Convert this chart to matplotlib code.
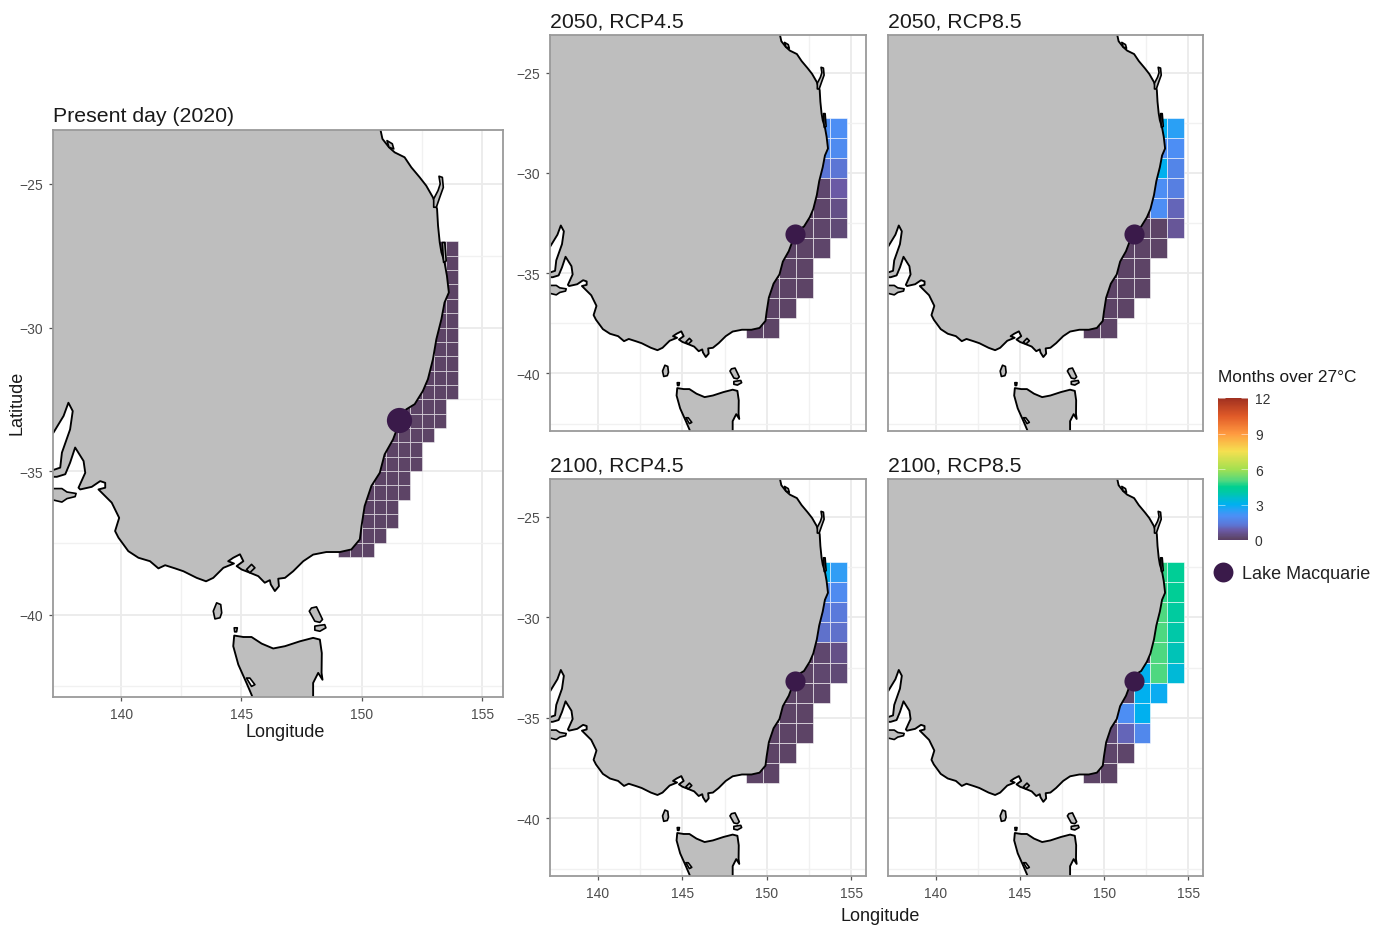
import numpy as np
import matplotlib
matplotlib.use("Agg")
import matplotlib.pyplot as plt
from matplotlib.colors import LinearSegmentedColormap, Normalize
from matplotlib.cm import ScalarMappable
from matplotlib.patches import Polygon

plt.rcParams['font.family'] = ['Liberation Sans', 'DejaVu Sans']

# --- coastline data (lon, lat) ---
MAINLAND_LON = [150.7,150.77,150.86,151.13,151.37,151.78,152.06,152.41,152.68,152.96,153.13,153.17,153.24,153.31,153.44,153.54,153.62,153.44,153.31,153.10,152.96,152.75,152.54,152.20,151.85,151.51,151.30,150.95,150.75,150.40,150.12,149.99,149.92,149.57,149.09,148.53,147.98,147.57,147.15,146.81,146.53,146.56,146.39,146.22,146.18,145.97,145.70,145.35,145.01,144.80,145.08,144.94,144.66,144.45,144.69,144.25,143.83,143.53,143.14,142.59,142.24,141.83,141.55,141.20,140.72,140.30,139.89,139.75,139.92,139.61,139.06,139.34,139.34,139.13,138.78,138.30,138.23,138.51,138.44,138.09,137.88,137.68,137.33,136.92,136.92,137.05,137.47,137.54,137.88,137.99,137.81,137.61,137.19,136.92,136.5,136.5,150.7]
MAINLAND_LAT = [-22.5,-23.08,-23.43,-23.72,-23.90,-24.07,-24.42,-24.77,-25.06,-25.47,-25.87,-26.45,-27.03,-27.38,-27.73,-28.20,-28.78,-29.13,-29.71,-30.41,-31.10,-31.80,-32.21,-32.67,-32.85,-33.43,-33.90,-34.42,-35.06,-35.52,-36.22,-36.92,-37.38,-37.73,-37.82,-37.82,-37.91,-38.14,-38.49,-38.72,-38.75,-39.01,-39.18,-38.95,-38.80,-38.89,-38.66,-38.54,-38.43,-38.31,-38.14,-37.90,-38.02,-38.14,-38.22,-38.37,-38.72,-38.84,-38.72,-38.49,-38.39,-38.28,-38.39,-38.14,-38.02,-37.79,-37.32,-37.09,-36.63,-36.10,-35.64,-35.58,-35.41,-35.35,-35.55,-35.64,-35.58,-35.06,-34.65,-34.18,-34.71,-35.11,-35.20,-35.20,-35.00,-35.00,-34.88,-34.36,-33.55,-32.91,-32.62,-33.08,-33.66,-33.78,-33.78,-22.5,-22.5]
TASMANIA_LON = [144.70,145.08,145.42,145.84,146.32,146.81,147.43,147.98,148.26,148.34,148.33,148.37,148.19,147.98,147.98,147.90,145.63,145.42,145.21,144.87,144.66]
TASMANIA_LAT = [-40.73,-40.78,-40.78,-41.01,-41.18,-41.10,-40.93,-40.81,-40.87,-41.34,-42.03,-42.27,-42.03,-42.38,-42.96,-43.31,-43.31,-42.79,-42.38,-41.74,-41.10]
ISLANDS = {
    "fraser": ([153.21,153.35,153.39,153.24,153.10,152.99,152.99,153.17,153.26],[-24.73,-24.77,-25.12,-25.47,-25.81,-25.81,-25.52,-25.23,-25.00]),
    "curtis": ([151.05,151.27,151.33,151.13],[-23.49,-23.60,-23.78,-23.72]),
    "moreton": ([153.35,153.45,153.51,153.40],[-27.04,-27.04,-27.68,-27.73]),
    "kangaroo": ([137.19,137.54,137.75,138.13,138.09,137.75,137.54,137.19,136.92,136.92],[-35.61,-35.61,-35.73,-35.78,-35.89,-35.96,-36.08,-36.01,-35.99,-35.61]),
    "king": ([143.97,144.14,144.18,144.11,143.90,143.83],[-39.59,-39.65,-39.94,-40.11,-40.15,-39.88]),
    "flinders": ([147.91,148.12,148.37,148.26,148.05,147.82],[-39.77,-39.73,-40.17,-40.27,-40.23,-39.88]),
    "barren": ([148.05,148.46,148.51,148.26,148.05],[-40.40,-40.35,-40.46,-40.58,-40.54]),
    "hunter": ([144.70,144.83,144.80,144.72],[-40.46,-40.46,-40.60,-40.60]),
    "phillip": ([145.21,145.42,145.56,145.35],[-38.43,-38.25,-38.37,-38.54]),
    "harbour": ([145.21,145.35,145.56,145.42],[-42.21,-42.21,-42.44,-42.50]),
}

# --- Present day grid: 0.5 degree cells, north to south ---
PRESENT_LAT_TOPS = np.arange(-27.0, -37.51, -0.5)
PRESENT_LON_WEST = np.arange(149.0, 153.51, 0.5)
PRESENT_EAST_EDGE = [154,154,154,154,154,154,154,154,154,154,154,
                     153.5,153.5,153,152.5,152.5,152,152,151.5,151.5,151,150.5]
PRESENT_VALUE = 0.1

# --- Future grids: 1 degree cells, north to south, lon 149.25..154.25 ---
FUTURE_LON_WEST = np.arange(148.75, 153.76, 1.0)
FUTURE_LAT_TOPS = np.arange(-27.25, -37.26, -1.0)
n = np.nan
V_2050_45 = [[.1,.1,.1,.1,2.0,2.0],[.1,.1,.1,.1,1.9,1.9],[.1,.1,.1,.1,1.3,1.3],
             [.1,.1,.1,.1,.2,.8],[.1,.1,.1,.1,.15,.5],[.1,.1,.1,.1,.15,.3],
             [.1,.1,.1,.1,.15,n],[.1,.1,.1,.1,n,n],[.1,.1,.1,.1,n,n],
             [.1,.1,.1,n,n,n],[.1,.1,n,n,n,n]]
V_2050_85 = [[.1,.1,.1,.1,3.0,2.5],[.1,.1,.1,.1,2.0,2.0],[.1,.1,.1,.1,3.0,1.7],
             [.1,.1,.1,.1,2.0,1.5],[.1,.1,.1,.1,2.0,1.0],[.1,.1,.1,.1,.1,.7],
             [.1,.1,.1,.1,.1,n],[.1,.1,.1,.1,n,n],[.1,.1,.1,.1,n,n],
             [.1,.1,.1,n,n,n],[.1,.1,n,n,n,n]]
V_2100_45 = [[.1,.1,.1,.1,3.0,2.4],[.1,.1,.1,.1,1.9,1.9],[.1,.1,.1,.1,1.4,1.4],
             [.1,.1,.1,.1,1.2,1.2],[.1,.1,.1,.1,.2,.5],[.1,.1,.1,.1,.2,.3],
             [.1,.1,.1,.1,.15,n],[.1,.1,.1,.1,n,n],[.1,.1,.1,.1,n,n],
             [.1,.1,.1,n,n,n],[.1,.1,n,n,n,n]]
V_2100_85 = [[.1,.1,.1,.1,4.8,4.4],[.1,.1,.1,.1,4.8,4.4],[.1,.1,.1,.1,5.0,4.2],
             [.1,.1,.1,.1,5.0,4.0],[.1,.1,.1,.1,5.0,3.8],[.1,.1,.1,3.0,5.0,3.4],
             [.1,.1,.15,3.0,2.9,n],[.1,.1,2.0,3.0,n,n],[.1,.3,1.0,1.8,n,n],
             [.1,.15,.15,n,n,n],[.1,.1,n,n,n,n]]

# Panels: values, title, lake position
PANEL_TITLES = ["2050, RCP4.5", "2050, RCP8.5", "2100, RCP4.5", "2100, RCP8.5"]
PANEL_VALUES = [V_2050_45, V_2050_85, V_2100_45, V_2100_85]
LAKE_LON = [151.68, 151.78, 151.68, 151.76]
LAKE_LAT = [-33.05, -33.05, -33.15, -33.15]
PRESENT_LAKE = (151.53, -33.22)

CMAP_VALUES = [0, 0.1, 0.8, 1.3, 2.0, 2.5, 3.0, 3.5, 4.0, 4.5, 5.0, 6.0, 7.5, 9.0, 10.5, 12.0]
CMAP_COLORS = ["#5a4068", "#5d4466", "#6a5aa5", "#5b78d8", "#4d8ff5", "#2aa0f5", "#00b0f0",
               "#00bcd0", "#00c8a8", "#00d090", "#50d880", "#a5e050", "#f5e050",
               "#ff9a40", "#e05a28", "#a03020"]
cmap = LinearSegmentedColormap.from_list("months", [(v / 12, c) for v, c in zip(CMAP_VALUES, CMAP_COLORS)])
norm = Normalize(0, 12)

W, H = 1389, 928
fig = plt.figure(figsize=(W / 100, H / 100), dpi=100)
fig.patch.set_facecolor("white")

XLIM = (137.17, 155.87)
YLIM = (-42.87, -23.12)


def px_axes(x0, y0, x1, y1):
    return fig.add_axes([x0 / W, 1 - y1 / H, (x1 - x0) / W, (y1 - y0) / H])


def base(ax, title, show_x, show_y):
    ax.set_axisbelow(True)
    for v in [140, 145, 150, 155]:
        ax.axvline(v, color="#ebebeb", lw=1.3, zorder=0.5)
    for v in [142.5, 147.5, 152.5]:
        ax.axvline(v, color="#f1f1f1", lw=1.0, zorder=0.5)
    for v in [-25, -30, -35, -40]:
        ax.axhline(v, color="#ebebeb", lw=1.3, zorder=0.5)
    for v in [-27.5, -32.5, -37.5, -42.5]:
        ax.axhline(v, color="#f1f1f1", lw=1.0, zorder=0.5)
    ax.set_xticks([140, 145, 150, 155] if show_x else [])
    ax.set_yticks([-25, -30, -35, -40] if show_y else [])
    ax.tick_params(length=3, width=0.9, color="#555555", labelcolor="#4d4d4d", labelsize=10, pad=4)
    for s in ax.spines.values():
        s.set_color("#9a9a9a")
        s.set_linewidth(1.3)
        s.set_zorder(6)
    ax.annotate(title, xy=(0, 1), xycoords="axes fraction", xytext=(0, 3.5), textcoords="offset points",
                ha="left", va="bottom", fontsize=15.3, color="#1a1a1a")


def cells(ax, west, top, size, values, edge, lw):
    values = np.asarray(values, dtype=float)
    lo, la = np.meshgrid(west, top)
    ok = np.isfinite(values)
    ax.bar(lo[ok], size, width=size, bottom=la[ok] - size, align="edge",
           color=cmap(norm(values[ok])), edgecolor=edge, linewidth=lw, zorder=2)


def land(ax):
    ax.add_patch(Polygon(np.column_stack([MAINLAND_LON, MAINLAND_LAT]), closed=True, fc="#bebebe", ec="black", lw=1.35, zorder=3, joinstyle="round"))
    ax.add_patch(Polygon(np.column_stack([TASMANIA_LON, TASMANIA_LAT]), closed=True, fc="#bebebe", ec="black", lw=1.35, zorder=3, joinstyle="round"))
    for name, (lo, la) in ISLANDS.items():
        ax.add_patch(Polygon(np.column_stack([lo, la]), closed=True, fc="white" if name == "harbour" else "#bebebe", ec="black", lw=1.2, zorder=3.2, joinstyle="round"))
    ax.set_xlim(*XLIM)
    ax.set_ylim(*YLIM)


# Present-day panel
ax0 = px_axes(53, 131, 503, 698)
base(ax0, "Present day (2020)", True, True)
present = [[PRESENT_VALUE if w + 0.25 < e else np.nan for w in PRESENT_LON_WEST] for e in PRESENT_EAST_EDGE]
cells(ax0, PRESENT_LON_WEST, PRESENT_LAT_TOPS, 0.5, present, (1, 1, 1, 0.55), 0.6)
land(ax0)
ax0.scatter(*PRESENT_LAKE, s=330, color="#3a1a4a", zorder=5, linewidths=0)
fig.text(285 / W, 1 - 733 / H, "Longitude", ha="center", va="center", fontsize=13, color="#1a1a1a")
fig.text(17 / W, 1 - 403 / H, "Latitude", ha="center", va="center", rotation=90, fontsize=13, color="#1a1a1a")

# Future panels
boxes = [(550, 36, 866, 432), (888, 36, 1203, 432), (550, 480, 866, 877), (888, 480, 1203, 877)]
for i, box in enumerate(boxes):
    ax = px_axes(*box)
    base(ax, PANEL_TITLES[i], i >= 2, i % 2 == 0)
    cells(ax, FUTURE_LON_WEST, FUTURE_LAT_TOPS, 1.0, PANEL_VALUES[i], (1, 1, 1, 0.55), 0.7)
    land(ax)
    ax.scatter(LAKE_LON[i], LAKE_LAT[i], s=210, color="#3a1a4a", zorder=5, linewidths=0)

fig.text(880 / W, 1 - 917 / H, "Longitude", ha="center", va="center", fontsize=13, color="#1a1a1a")

# Colour bar
cax = px_axes(1218, 399, 1248, 541)
cb = fig.colorbar(ScalarMappable(norm=norm, cmap=cmap), cax=cax, ticks=[0, 3, 6, 9, 12])
cb.outline.set_visible(False)
cax.tick_params(direction="in", length=5, width=0.7, color="#ffffff80", left=True, right=True, labelsize=10, labelcolor="#333333", pad=5)
fig.text(1218 / W, 1 - 377 / H, "Months over 27°C", ha="left", va="center", fontsize=12.4, color="#1a1a1a")

# Lake legend
lg = fig.add_axes([1205 / W, 1 - 590 / H, 170 / W, 34 / H])
lg.axis("off")
lg.set_xlim(1205, 1375)
lg.set_ylim(590, 556)
lg.scatter([1223], [573], s=205, color="#3a1a4a", linewidths=0)
lg.text(1242, 575, "Lake Macquarie", ha="left", va="center", fontsize=13, color="#222222")

fig.savefig("out.png", dpi=100)
